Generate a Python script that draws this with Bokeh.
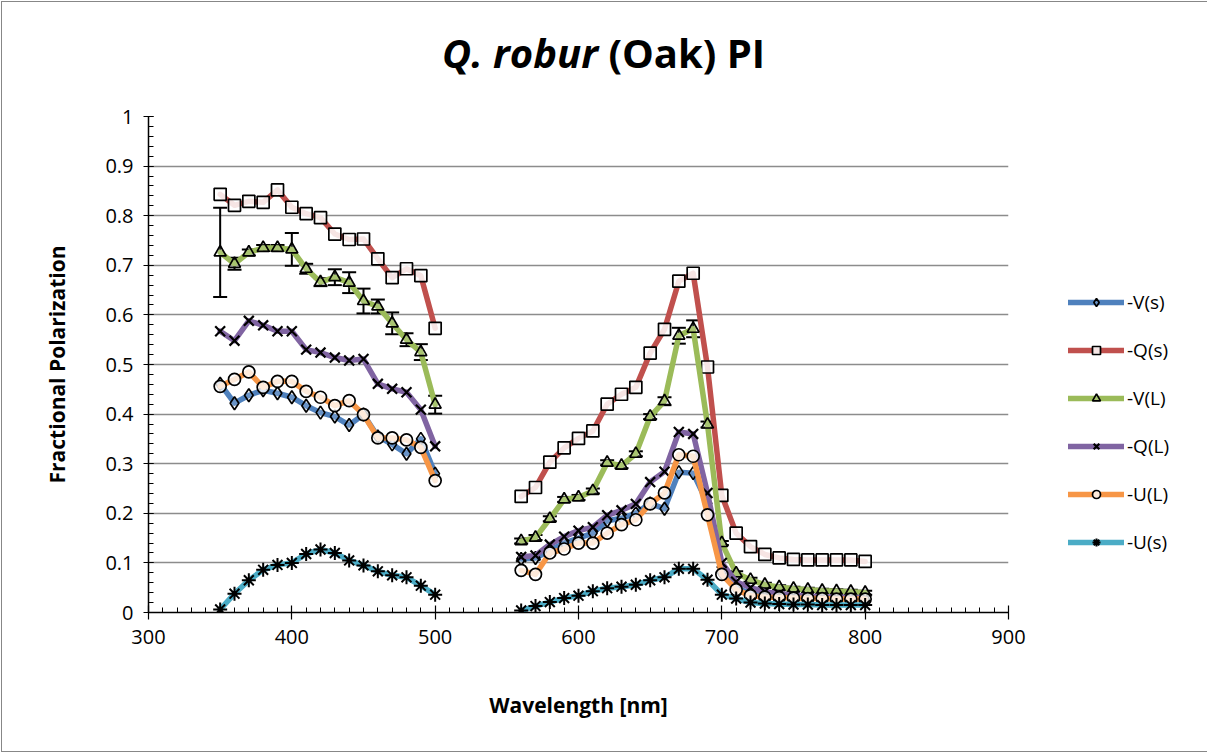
import numpy as np
from bokeh.plotting import figure
from bokeh.layouts import column
from bokeh.models import (FixedTicker, Legend, LegendItem, Whisker, Div,
                          ColumnDataSource, TeeHead)
from bokeh.embed import file_html
from bokeh.resources import INLINE

# ---------------- data ----------------
wl_left = [350, 360, 370, 380, 390, 400, 410, 420, 430, 440, 450, 460, 470, 480, 490, 500]
wl_right = [560, 570, 580, 590, 600, 610, 620, 630, 640, 650, 660, 670, 680, 690, 700,
            710, 720, 730, 740, 750, 760, 770, 780, 790, 800]

vs_left = [0.461, 0.422, 0.438, 0.448, 0.442, 0.434, 0.417, 0.403, 0.395, 0.378, 0.399, 0.355, 0.339, 0.320, 0.350, 0.280]
vs_right = [0.108, 0.110, 0.125, 0.140, 0.150, 0.160, 0.185, 0.190, 0.200, 0.220, 0.209, 0.283, 0.281, 0.220, 0.080,
            0.050, 0.038, 0.033, 0.031, 0.030, 0.029, 0.028, 0.028, 0.027, 0.027]

qs_left = [0.843, 0.821, 0.829, 0.827, 0.852, 0.817, 0.804, 0.796, 0.763, 0.752, 0.753, 0.713, 0.675, 0.693, 0.679, 0.573]
qs_right = [0.234, 0.252, 0.303, 0.332, 0.351, 0.366, 0.420, 0.440, 0.454, 0.523, 0.571, 0.668, 0.684, 0.495, 0.236,
            0.160, 0.133, 0.117, 0.110, 0.107, 0.106, 0.106, 0.106, 0.106, 0.103]

vl_left = [0.726, 0.703, 0.726, 0.735, 0.735, 0.732, 0.693, 0.666, 0.676, 0.665, 0.628, 0.617, 0.583, 0.550, 0.525, 0.419]
vl_right = [0.144, 0.151, 0.189, 0.228, 0.232, 0.245, 0.302, 0.296, 0.320, 0.395, 0.426, 0.558, 0.572, 0.379, 0.140,
            0.079, 0.066, 0.056, 0.051, 0.048, 0.046, 0.044, 0.043, 0.042, 0.040]
vl_err_left = [0.090, 0.012, 0.006, 0.006, 0.006, 0.033, 0.010, 0.008, 0.016, 0.021, 0.025, 0.014, 0.022, 0.013, 0.016, 0.018]
vl_err_right = [0.005, 0.005, 0.005, 0.005, 0.005, 0.005, 0.005, 0.005, 0.005, 0.005, 0.008, 0.016, 0.017, 0.006, 0.004,
                0.004, 0.004, 0.004, 0.004, 0.004, 0.004, 0.004, 0.004, 0.004, 0.004]

ql_left = [0.567, 0.548, 0.588, 0.579, 0.567, 0.567, 0.530, 0.524, 0.514, 0.508, 0.511, 0.461, 0.451, 0.444, 0.409, 0.335]
ql_right = [0.112, 0.115, 0.137, 0.153, 0.165, 0.172, 0.196, 0.206, 0.219, 0.263, 0.284, 0.364, 0.360, 0.241, 0.100,
            0.062, 0.050, 0.042, 0.038, 0.035, 0.033, 0.032, 0.031, 0.030, 0.030]

ul_left = [0.456, 0.470, 0.485, 0.454, 0.466, 0.466, 0.446, 0.434, 0.417, 0.427, 0.399, 0.352, 0.352, 0.348, 0.333, 0.266]
ul_right = [0.085, 0.077, 0.120, 0.128, 0.140, 0.140, 0.160, 0.177, 0.187, 0.219, 0.241, 0.318, 0.315, 0.197, 0.077,
            0.046, 0.034, 0.031, 0.030, 0.029, 0.028, 0.028, 0.027, 0.027, 0.027]

us_left = [0.006, 0.038, 0.065, 0.086, 0.096, 0.100, 0.118, 0.127, 0.120, 0.105, 0.095, 0.083, 0.075, 0.071, 0.054, 0.036]
us_right = [0.004, 0.013, 0.021, 0.029, 0.034, 0.043, 0.049, 0.052, 0.056, 0.065, 0.071, 0.088, 0.088, 0.066, 0.036,
            0.028, 0.020, 0.018, 0.017, 0.016, 0.016, 0.015, 0.015, 0.015, 0.015]

series_names = ["-V(s)", "-Q(s)", "-V(L)", "-Q(L)", "-U(L)", "-U(s)"]
x_ticks = [300, 400, 500, 600, 700, 800, 900]
y_ticks = [0, 0.1, 0.2, 0.3, 0.4, 0.5, 0.6, 0.7, 0.8, 0.9, 1.0]
y_tick_labels = ["0", "0.1", "0.2", "0.3", "0.4", "0.5", "0.6", "0.7", "0.8", "0.9", "1"]
title_italic = "Q. robur"
title_rest = "(Oak) PI"

# ---------------- styles ----------------
colors = ["#4F81BD", "#C0504D", "#9BBB59", "#8064A2", "#F79646", "#4BACC6"]
markers = ["diamond", "square", "triangle", "x", "circle", "asterisk"]
msizes = [13, 12, 12, 14, 12, 14]
mwidths = [1.7, 1.7, 1.7, 2.2, 1.7, 2.0]
malphas = [0.15, 0.85, 0.15, 0.8, 0.8, 0.8]
FONT = "Open Sans"
TITLE_H = 100
BORDER = "#878787"

title = Div(text=f'<div style="font-family:\'Open Sans\';font-size:40px;font-weight:bold;'
                 f'text-align:center;width:1207px;line-height:50px;padding-top:28px;color:black">'
                 f'<i>{title_italic}</i> {title_rest}</div>',
            width=1207, height=TITLE_H, margin=0)

p = figure(width=1207, height=753 - TITLE_H, frame_width=860, frame_height=496,
           x_range=(300, 900), y_range=(0, 1),
           output_backend="svg", toolbar_location=None, margin=0,
           min_border_left=148, min_border_right=199, min_border_top=116 - TITLE_H, min_border_bottom=141)
p.outline_line_color = None
p.background_fill_color = "white"
p.border_fill_alpha = 0

# axes
p.xaxis.ticker = FixedTicker(ticks=x_ticks, minor_ticks=list(np.arange(300, 901, 10)))
p.yaxis.ticker = FixedTicker(ticks=y_ticks, minor_ticks=list(np.round(np.arange(0, 1.001, 0.02), 2)))
p.yaxis.major_label_overrides = {t: l for t, l in zip(y_ticks, y_tick_labels)}
for ax in (p.xaxis[0], p.yaxis[0]):
    ax.axis_line_color = "black"
    ax.axis_line_width = 1.5
    ax.major_tick_line_color = "black"
    ax.minor_tick_line_color = "black"
    ax.major_tick_line_width = 1.2
    ax.minor_tick_line_width = 1
    ax.major_label_text_font = FONT
    ax.major_label_text_font_size = "20px"
    ax.major_label_text_color = "black"
    ax.axis_label_text_font = FONT
    ax.axis_label_text_font_size = "21px"
    ax.axis_label_text_font_style = "bold"
    ax.axis_label_text_color = "black"
p.xaxis.major_tick_in = 7
p.xaxis.major_tick_out = 7
p.xaxis.minor_tick_in = 5
p.xaxis.minor_tick_out = 0
p.yaxis.major_tick_in = 5
p.yaxis.major_tick_out = 5
p.yaxis.minor_tick_in = 5
p.yaxis.minor_tick_out = 0
p.xaxis.major_label_standoff = 10
p.yaxis.major_label_standoff = 10
p.xaxis.axis_label = "Wavelength [nm]"
p.yaxis.axis_label = "Fractional Polarization"
p.xaxis.axis_label_standoff = 44
p.yaxis.axis_label_standoff = 31

p.xgrid.grid_line_color = None
p.ygrid.grid_line_color = "#8C8C8C"
p.ygrid.grid_line_width = 1.5
p.ygrid.ticker = FixedTicker(ticks=y_ticks)

# ---------------- series ----------------
data = [(vs_left, vs_right), (qs_left, qs_right), (vl_left, vl_right),
        (ql_left, ql_right), (ul_left, ul_right), (us_left, us_right)]
items = []
for i, (yl, yr) in enumerate(data):
    col = colors[i]
    r1 = p.line(wl_left, yl, line_color=col, line_width=5.5, line_join="round", line_cap="round")
    r2 = p.line(wl_right, yr, line_color=col, line_width=5.5, line_join="round", line_cap="round")
    if i == 2:
        for xs, ys, es in ((wl_left, vl_left, vl_err_left), (wl_right, vl_right, vl_err_right)):
            src = ColumnDataSource(dict(x=xs, lo=[a - b for a, b in zip(ys, es)],
                                        hi=[a + b for a, b in zip(ys, es)]))
            w = Whisker(source=src, base="x", lower="lo", upper="hi", line_color="black", line_width=2,
                        upper_head=TeeHead(size=14, line_color="black", line_width=2),
                        lower_head=TeeHead(size=14, line_color="black", line_width=2))
            p.add_layout(w)
    m1 = p.scatter(wl_left + wl_right, yl + yr, marker=markers[i], size=msizes[i],
                   line_color="black", line_width=mwidths[i], fill_color="white", fill_alpha=malphas[i])
    items.append(LegendItem(label=series_names[i], renderers=[r1, m1]))

legend = Legend(items=items, location=(60, 57), orientation="vertical")
legend.border_line_color = None
legend.background_fill_alpha = 0
legend.padding = 0
legend.margin = 0
legend.spacing = 22
legend.glyph_width = 56
legend.glyph_height = 20
legend.label_standoff = 3
legend.label_text_font = FONT
legend.label_text_font_size = "19px"
legend.label_text_color = "black"
p.add_layout(legend, "right")

layout = column(title, p, margin=0,
                styles={"outline": f"1px solid {BORDER}", "outline-offset": "-2px"})

open("out.html", "w").write(file_html(layout, INLINE))
